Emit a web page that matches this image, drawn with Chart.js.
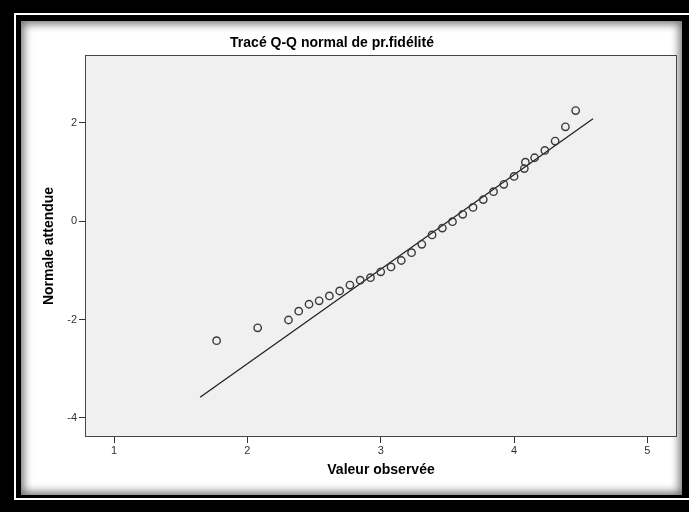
<!DOCTYPE html>
<html>
<head>
<meta charset="utf-8">
<script src="https://cdn.jsdelivr.net/npm/chart.js@4.4.1/dist/chart.umd.min.js"></script>
<style>
  html, body { margin: 0; padding: 0; }
  body { width: 689px; height: 512px; background: #000; position: relative; overflow: hidden; }
  #ring { position: absolute; left: 14px; top: 13px; width: 700px; height: 487px; box-sizing: border-box; border: 2px solid #fff; background: #000; }
  #panel { position: absolute; left: 21px; top: 21px; width: 661px; height: 474px; background: #fff; box-shadow: inset 0 0 9px 3px rgba(0,0,0,0.55); }
  #c { position: absolute; left: -40px; top: 0; }
</style>
</head>
<body>
<div id="ring"></div>
<div id="panel"></div>
<canvas id="c" width="729" height="512"></canvas>
<script>
const observedValues = [1.769, 2.077, 2.308, 2.385, 2.462, 2.538, 2.615, 2.692, 2.769, 2.846, 2.923, 3.000, 3.077, 3.154, 3.231, 3.308, 3.385, 3.462, 3.538, 3.615, 3.692, 3.769, 3.846, 3.923, 4.000, 4.077, 4.085, 4.154, 4.231, 4.308, 4.385, 4.462];
const expectedNormal = [-2.43, -2.17, -2.01, -1.83, -1.69, -1.62, -1.52, -1.42, -1.30, -1.20, -1.15, -1.03, -0.93, -0.80, -0.64, -0.47, -0.28, -0.14, -0.01, 0.14, 0.28, 0.44, 0.60, 0.75, 0.91, 1.07, 1.20, 1.29, 1.44, 1.63, 1.92, 2.25];
// Reference line end points
const lineX = [1.645, 4.592];
const lineY = [-3.58, 2.085];
// Tick labels
const xTicks = [1, 2, 3, 4, 5];
const yTicks = [-4, -2, 0, 2];

const FONT = "'Liberation Sans', Arial, sans-serif";

const plotBg = {
  id: 'plotBg',
  beforeDraw(chart) {
    const { ctx, chartArea: a } = chart;
    ctx.save();
    ctx.fillStyle = '#f0f0f0';
    ctx.fillRect(a.left, a.top, a.right - a.left, a.bottom - a.top);
    ctx.restore();
  },
  beforeDatasetsDraw(chart) {
    const { ctx, chartArea: a } = chart;
    ctx.save();
    ctx.strokeStyle = '#444';
    ctx.lineWidth = 1;
    ctx.strokeRect(a.left + 0.5, a.top + 0.5, a.right - a.left - 1, a.bottom - a.top - 1);
    ctx.restore();
  }
};

new Chart(document.getElementById('c'), {
  type: 'scatter',
  data: {
    datasets: [
      {
        data: lineX.map((x, i) => ({ x, y: lineY[i] })),
        showLine: true,
        borderColor: '#222',
        borderWidth: 1.3,
        pointRadius: 0,
        order: 2
      },
      {
        data: observedValues.map((x, i) => ({ x, y: expectedNormal[i] })),
        pointStyle: 'circle',
        pointRadius: 3.7,
        pointBorderWidth: 1.4,
        pointBorderColor: '#3a3a3a',
        pointBackgroundColor: 'rgba(0,0,0,0)',
        order: 1
      }
    ]
  },
  options: {
    responsive: false,
    animation: false,
    devicePixelRatio: 1,
    layout: { padding: { left: 27, right: 12, top: 30, bottom: 22 } },
    plugins: {
      legend: { display: false },
      tooltip: { enabled: false },
      title: {
        display: true,
        text: 'Tracé Q-Q normal de pr.fidélité',
        color: '#000',
        font: { family: FONT, size: 14, weight: 'bold', lineHeight: 1.2 },
        padding: { top: 4.6, bottom: 3.6 }
      }
    },
    scales: {
      x: {
        type: 'linear',
        min: 0.782,
        max: 5.222,
        afterFit(s) { s.height = 53; },
        afterBuildTicks(s) { s.ticks = xTicks.map(v => ({ value: v })); },
        grid: { drawOnChartArea: false, drawTicks: true, tickLength: 6, tickColor: '#333' },
        border: { display: false },
        ticks: { color: '#333', font: { family: FONT, size: 11 }, padding: 1 },
        title: {
          display: true,
          text: 'Valeur observée',
          color: '#000',
          font: { family: FONT, size: 14, weight: 'bold', lineHeight: 1.2 },
          padding: { top: 0, bottom: 11.6 }
        }
      },
      y: {
        type: 'linear',
        min: -4.39,
        max: 3.38,
        afterFit(s) { s.width = 98; },
        afterBuildTicks(s) { s.ticks = yTicks.map(v => ({ value: v })); },
        grid: { drawOnChartArea: false, drawTicks: true, tickLength: 6, tickColor: '#333' },
        border: { display: false },
        ticks: { color: '#333', font: { family: FONT, size: 11 }, padding: 2 },
        title: {
          display: true,
          text: 'Normale attendue',
          color: '#000',
          font: { family: FONT, size: 14, weight: 'bold', lineHeight: 1.2 },
          padding: { top: 53.6, bottom: 0 }
        }
      }
    }
  },
  plugins: [plotBg]
});
</script>
</body>
</html>
